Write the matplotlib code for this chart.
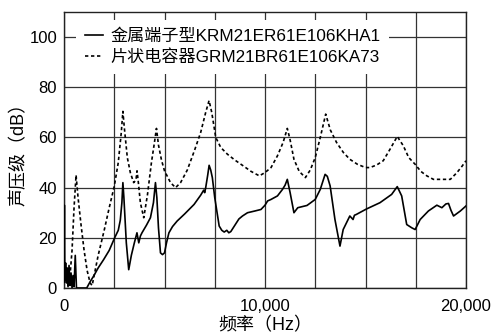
import matplotlib
matplotlib.use("Agg")
import matplotlib.pyplot as plt
from matplotlib.ticker import FuncFormatter, MultipleLocator

plt.rcParams['font.family'] = ['Liberation Sans', 'Noto Sans CJK SC', 'DejaVu Sans']

# Metal-terminal type KRM21ER61E106KHA1 (solid)
krm_freq = [0, 20, 40, 80, 120, 160, 200, 250, 300, 350, 400, 450, 500, 560, 620, 700,
            900, 1130, 1300, 1470, 1700, 1970, 2250, 2520, 2700, 2800, 2880, 2930, 2980,
            3100, 3220, 3350, 3500, 3630, 3720, 3800, 3880, 4100, 4300, 4450, 4550, 4620,
            4700, 4800, 4900, 5000, 5100, 5220, 5400, 5630, 6000, 6470, 6800, 6950, 7000,
            7050, 7150, 7220, 7300, 7380, 7500, 7720, 7850, 7970, 8100, 8200, 8300, 8500,
            8700, 8880, 9130, 9500, 9800, 10000, 10130, 10300, 10620, 10870, 11000, 11110,
            11250, 11440, 11630, 12090, 12500, 12750, 12990, 13100, 13240, 13480, 13730,
            13890, 14220, 14380, 14450, 14540, 15050, 15720, 16300, 16580, 16800, 17050,
            17300, 17470, 17720, 18130, 18550, 18800, 19000, 19130, 19250, 19380, 19720, 20000]
krm_db = [5, 33, 3, 10, 2, 8, 0.5, 9, 1, 6, 0, 5, 0.5, 13, 0, 0,
          0, 0, 2.5, 4.7, 8, 11.3, 15, 20, 23, 27, 34, 42, 36,
          18, 7.3, 13, 18, 22, 18, 20.7, 22, 25, 28, 34, 42, 36,
          24, 14, 13.3, 14, 18, 22, 24.5, 26.7, 29.5, 33.3, 37, 39, 38,
          40, 45, 48.9, 47, 44, 36, 24.7, 23, 22.3, 23, 22, 22.5, 25,
          27.5, 28.7, 30, 30.7, 31.3, 33, 34.7, 35.3, 36.7, 39.3, 41, 43.3,
          38, 30, 32, 32.9, 35.3, 39.3, 45.3, 44.5, 40.7, 27.3, 16.7,
          23.3, 28.7, 27.3, 29, 29.3, 31.5, 34, 37.3, 40.4, 36.7, 25.3,
          24, 23.3, 27.3, 30.7, 33, 32, 33.5, 33.7, 31, 28.7, 30.7, 32.7]

# Chip capacitor GRM21BR61E106KA73 (dotted)
grm_freq = [0, 100, 200, 300, 400, 500, 600, 700, 850, 1000, 1150, 1300, 1400, 1500, 1700,
            2000, 2250, 2500, 2700, 2850, 2930, 3000, 3150, 3300, 3467, 3580, 3633, 3700,
            3800, 3967, 4150, 4350, 4500, 4600, 4700, 4850, 5000, 5300, 5550, 5800, 6133,
            6500, 6800, 7050, 7217, 7350, 7550, 7800, 8133, 8500, 8967, 9300, 9717, 10000,
            10300, 10620, 10900, 11110, 11250, 11440, 11700, 12010, 12250, 12500, 12750,
            13020, 13250, 13560, 13900, 14220, 14600, 15000, 15220, 15550, 15880, 16220,
            16580, 16880, 17150, 17470, 17750, 18050, 18380, 18800, 19220, 19550, 19800, 20000]
grm_db = [2, 8, 1, 5, 15, 32, 45, 36, 25, 15, 7, 2, 1, 5, 13,
          23, 32, 40.5, 50, 62, 70.4, 64, 52, 46, 42, 43, 46.7, 42,
          34, 28, 37, 50, 58, 63.6, 57, 51, 46.7, 42, 40, 42, 47,
          55, 62, 70, 74.7, 70, 60, 56, 53.3, 51, 48.4, 46.5, 44.7, 46,
          48, 52.7, 58, 63.6, 59, 51.3, 46.5, 44, 47, 52, 60,
          69.3, 63, 58, 54, 51.3, 49.3, 48, 48, 49, 50.7, 55.3,
          60.4, 56.7, 52, 49.3, 46.5, 44.7, 43.3, 43.3, 43.3, 46, 48.5, 50.7]

series_labels = ['金属端子型KRM21ER61E106KHA1', '片状电容器GRM21BR61E106KA73']
x_ticks = [0, 10000, 20000]
y_ticks = [0, 20, 40, 60, 80, 100]

fig = plt.figure(figsize=(4.95, 3.34), dpi=100)
ax = fig.add_axes([64/495, 1-288/334, 402/495, 276/334])

ax.plot(krm_freq, krm_db, color='black', lw=1.2, label=series_labels[0], zorder=3)
ax.plot(grm_freq, grm_db, color='black', lw=1.2, linestyle=(0, (2, 1.6)),
        label=series_labels[1], zorder=3)

ax.set_xlim(0, 20000)
ax.set_ylim(0, 110)
ax.xaxis.set_major_locator(MultipleLocator(2500))
ax.set_yticks(y_ticks)
ax.xaxis.set_major_formatter(FuncFormatter(
    lambda v, p: f"{int(v):,}" if int(v) in x_ticks else ""))
ax.grid(True, color='#333333', lw=0.9, zorder=1)
ax.set_axisbelow(True)
ax.tick_params(axis='both', length=0, labelsize=12, colors='black')
ax.tick_params(axis='x', pad=8)
ax.tick_params(axis='y', pad=5)
for s in ax.spines.values():
    s.set_color('#222222')
    s.set_linewidth(1.0)

ax.set_xlabel('频率（Hz）', fontsize=13, labelpad=2)
ax.set_ylabel('声压级（dB）', fontsize=13, labelpad=1)

leg = ax.legend(loc='upper left', bbox_to_anchor=(0.03, 0.97), fontsize=12.3,
                frameon=True, fancybox=False, framealpha=1, edgecolor='none',
                facecolor='white', handlelength=1.1, handletextpad=0.4,
                labelspacing=0.3, borderpad=0.5, borderaxespad=0)
leg.set_zorder(5)

fig.savefig('out.png', dpi=100)
